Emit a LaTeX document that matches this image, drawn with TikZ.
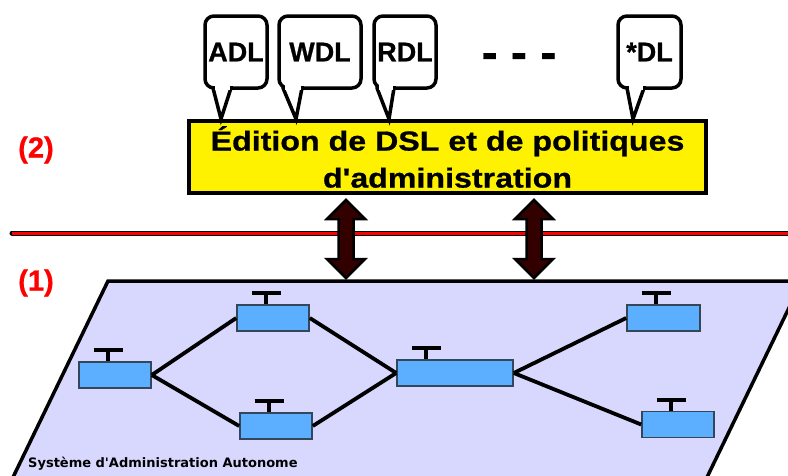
\documentclass[tikz,border=0pt]{standalone}
\usepackage{fontspec}
\setmainfont{Liberation Sans}[BoldFeatures={FakeBold=0.7}]
\newfontfamily\widefont[FakeStretch=1.17,BoldFeatures={FakeBold=0.8}]{Liberation Sans}
\newfontfamily\capfont{DejaVu Sans}
\usetikzlibrary{calc}
\definecolor{planecol}{HTML}{D8D8FE}
\definecolor{nodecol}{HTML}{5CAEFF}
\definecolor{nodeborder}{HTML}{34465A}
\definecolor{arrowcol}{HTML}{330000}
\tikzset{
  plane/.style={fill=planecol, draw=black, line width=3.5pt},
  edbox/.style={draw=black, fill=yellow, line width=4pt, minimum width=517pt, minimum height=72pt, inner sep=0pt, align=center,
    font=\widefont\bfseries\fontsize{27.5}{37}\selectfont},
  callbox/.style={draw=black, fill=white, line width=3.5pt, rounded corners=9pt, minimum height=72pt, inner sep=0pt,
    font=\bfseries\fontsize{27}{30}\selectfont},
  pointer/.style={draw=black, fill=white, line width=3.5pt, line join=miter},
  fatarrow/.style={draw=black, fill=arrowcol, line width=2.5pt, line join=miter},
  netnode/.style={draw=nodeborder, fill=nodecol, line width=1.6pt, minimum height=26pt, inner sep=0pt},
  tbar/.style={draw=black, line width=3.8pt},
  link/.style={draw=black, line width=3.8pt},
  layerlabel/.style={text=red, font=\bfseries\fontsize{29}{32}\selectfont},
}
\begin{document}
\begin{tikzpicture}[x=1pt,y=-1pt]
\useasboundingbox (0,0) rectangle (788,475);
\clip (0,0) rectangle (788,475);

% plane
\filldraw[plane] (108,281) -- (802,281) -- (696,500) -- (2,500) -- cycle;

% separation line
\draw[line width=5pt, black, line cap=round] (12,233) -- (792,233);
\draw[line width=3pt, red] (12,233) -- (792,233);

% labels
\node[layerlabel] (l2) at (36,150) {(2)};
\node[layerlabel] (l1) at (36,283) {(1)};

% edition box
\node[edbox] (ed) at (447.5,157) {Édition de DSL et de politiques\\d'administration};

% callouts
\node[callbox, minimum width=62pt] (adl) at (236,52) {ADL};
\node[callbox, minimum width=82pt] (wdl) at (320,52) {WDL};
\node[callbox, minimum width=62pt] (rdl) at (405,52) {RDL};
\node[callbox, minimum width=63pt] (sdl) at (649.5,52) {*DL};
\node[anchor=base, font=\bfseries\fontsize{48}{50}\selectfont] (dots) at (519,68.5) {- - -};

\foreach \c/\a/\t/\b in {adl/213/221/231, wdl/283/296/302, rdl/377/389/394, sdl/627/633/644}{
  \path[pointer] (\a,86) -- (\a,88) -- (\t,0 |- ed.north) -- (\b,88) -- (\b,86);
  \fill[white] (\a+1.5,83) rectangle (\b-1.5,89.5);
}

% fat double arrows
\coordinate (a1t) at (346,200); \coordinate (a1b) at (346,278);
\coordinate (a2t) at (534,200); \coordinate (a2b) at (534,278);
\foreach \t/\b in {a1t/a1b, a2t/a2b}{
  \filldraw[fatarrow] (\t) -- ++(19,19) -- ++(-11.5,0) -- ($(\b)+(7.5,-19)$) -- ++(11.5,0) -- (\b)
    -- ++(-19,-19) -- ++(11.5,0) -- ($(\t)+(-7.5,19)$) -- ++(-11.5,0) -- cycle;
}

% network nodes
\node[netnode, minimum width=72pt] (A) at (115,375) {};
\node[netnode, minimum width=72pt] (B) at (273,318) {};
\node[netnode, minimum width=72pt] (C) at (276,426) {};
\node[netnode, minimum width=116pt] (D) at (455,373) {};
\node[netnode, minimum width=73pt] (E) at (663.5,318) {};
\node[netnode, minimum width=72pt] (F) at (678,424.5) {};

\foreach \n in {A,B,C,D,E,F}{
  \draw[tbar] ($(\n.north west)+(30,0)$) -- ++(0,-11) ++(-14.5,0) -- ++(29,0);
}

\draw[link] (A.east) -- (B.west);
\draw[link] (A.east) -- (C.west);
\draw[link] (B.east) -- (D.west);
\draw[link] (C.east) -- (D.west);
\draw[link] (D.east) -- (E.west);
\draw[link] (D.east) -- (F.west);

% caption
\node[anchor=base west, inner sep=0pt, font=\capfont\bfseries\fontsize{13}{15}\selectfont] (cap) at (28,467) {Système d'Administration Autonome};
\end{tikzpicture}
\end{document}
